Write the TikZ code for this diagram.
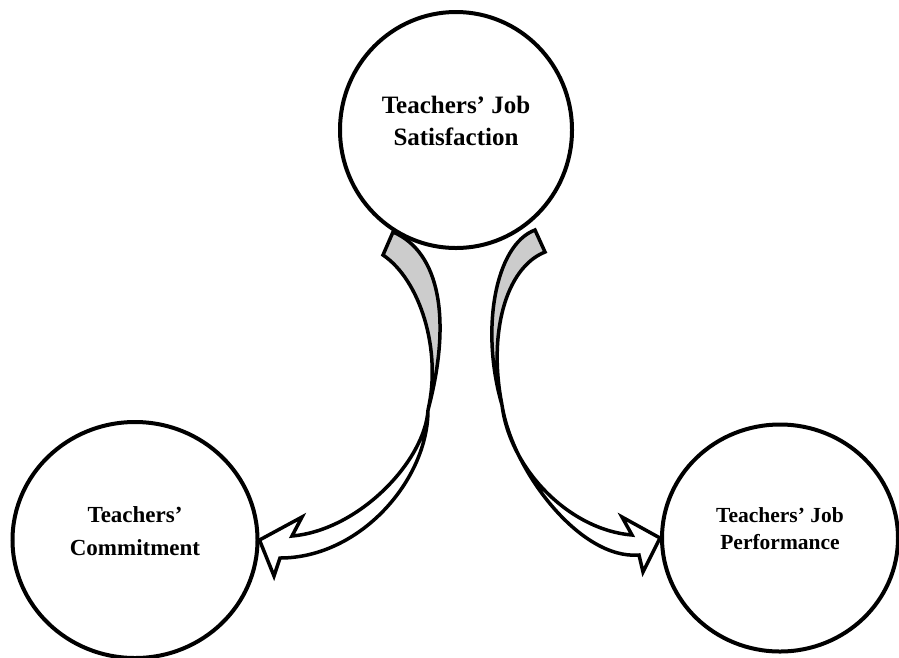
\documentclass[tikz,border=0pt]{standalone}
\usepackage{fontspec}
\setmainfont{Liberation Serif}
\definecolor{BackGray}{RGB}{204,204,204}
\usetikzlibrary{shapes.geometric,backgrounds}
\tikzset{>=latex}
\tikzset{myellipse/.style={ellipse,draw,line width=4pt,fill=white,align=center,inner sep=0pt,text depth=18pt}}
\tikzset{arrowback/.style={draw,line width=3.5pt,fill=BackGray,line join=miter}}
\tikzset{arrowfront/.style={draw,line width=3.5pt,fill=white,line join=miter}}

\begin{document}
\begin{tikzpicture}[x=1pt,y=-1pt]
                \useasboundingbox (0,0) rectangle (899,657);
                \node[myellipse,minimum width=232pt,minimum height=236pt,
                      font=\bfseries\fontsize{25}{31.7}\selectfont] (sat) at (456,130)
                      {Teachers’ Job\\Satisfaction};
                \node[myellipse,minimum width=245pt,minimum height=236pt,
                      font=\bfseries\fontsize{23}{33}\selectfont] (com) at (135,540)
                      {Teachers’\\Commitment};
                \node[myellipse,minimum width=236pt,minimum height=227pt,
                      font=\bfseries\fontsize{21.5}{27}\selectfont] (perf) at (780,538)
                      {Teachers’ Job\\Performance};
                \begin{scope}[on background layer]
                    % sat -> com
                    \draw[arrowback] (383,255) -- (393,232)
                        .. controls (440,252) and (452,320) .. (428,410)
                        .. controls (442,350) and (420,280) .. (383,255) -- cycle;
                    \draw[arrowfront] (428,410) .. controls (425,460) and (360,530) .. (292,536)
                        -- (302,517) -- (com.east) -- (274,576) -- (280,558)
                        .. controls (360,558) and (428,480) .. (428,410) -- cycle;
                    % sat -> perf
                    \draw[arrowback] (535,230) -- (545,252)
                        .. controls (505,268) and (488,335) .. (502,405)
                        .. controls (480,330) and (495,245) .. (535,230) -- cycle;
                    \draw[arrowfront] (502,405) .. controls (510,470) and (570,530) .. (632,535)
                        -- (622,517) -- (perf.west) -- (643,572) -- (639,555)
                        .. controls (580,560) and (512,470) .. (502,405) -- cycle;
                \end{scope}
            \end{tikzpicture}
\end{document}
